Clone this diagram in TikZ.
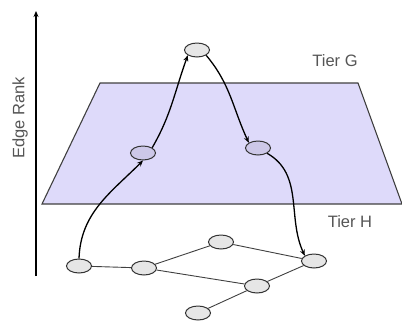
\documentclass[tikz,border=0pt]{standalone}
\usepackage{fontspec}
\setmainfont{Liberation Sans}
\usetikzlibrary{arrows.meta,shapes.geometric}
\definecolor{lav}{RGB}{222,218,250}
\definecolor{nodefill}{RGB}{230,230,230}
\definecolor{midfill}{RGB}{205,200,232}
\definecolor{txt}{RGB}{85,85,85}
\tikzset{
  vert/.style={ellipse, draw=black!80, line width=1pt, fill=nodefill, minimum width=25pt, minimum height=14pt, inner sep=0pt},
  midvert/.style={vert, fill=midfill},
  link/.style={draw=black!75, line width=0.9pt},
  jump/.style={draw=black, line width=1.3pt, -{Stealth[length=6pt,width=5pt]}},
  lbl/.style={text=txt, font=\fontsize{16.5}{16.5}\selectfont, inner sep=0pt}
}
\begin{document}
\begin{tikzpicture}[x=1pt,y=-1pt]
\useasboundingbox (0,0) rectangle (402,322);
% axis
\coordinate (ab) at (36,276);
\coordinate (at) at (36,11);
\draw[line width=1.5pt, -{Stealth[length=6pt,width=5pt]}] (ab) -- (at);
\node[lbl, rotate=90] (er) at (20,118) {Edge Rank};
% plane
\draw[draw=black!75, line width=1.1pt, fill=lav] (100,83) -- (358,83) -- (402,204) -- (42,204) -- cycle;
\node[lbl] (tg) at (335,61) {Tier G};
\node[lbl] (th) at (350,222) {Tier H};
% nodes
\node[vert] (top) at (197,50) {};
\node[midvert] (ml) at (143,153) {};
\node[midvert] (mr) at (258,148) {};
\node[vert] (n1) at (79,266) {};
\node[vert] (n2) at (144,268) {};
\node[vert] (n3) at (221,242) {};
\node[vert] (n4) at (314,261) {};
\node[vert] (n5) at (257,286) {};
\node[vert] (n6) at (198,313) {};
% graph links
\draw[link] (n1) -- (n2);
\draw[link] (n2) -- (n3);
\draw[link] (n3) -- (n4);
\draw[link] (n2) -- (n5);
\draw[link] (n5) -- (n4);
\draw[link] (n5) -- (n6);
% jumps
\draw[jump] (n1.north) to[out=88, in=225] (ml.south);
\draw[jump] (ml.north east) to[out=60, in=250] (top.south west);
\draw[jump] (top.south east) to[out=-50, in=115] (mr.north west);
\draw[jump] (mr.south east) to[out=-30, in=115] (n4.north west);
\end{tikzpicture}
\end{document}
